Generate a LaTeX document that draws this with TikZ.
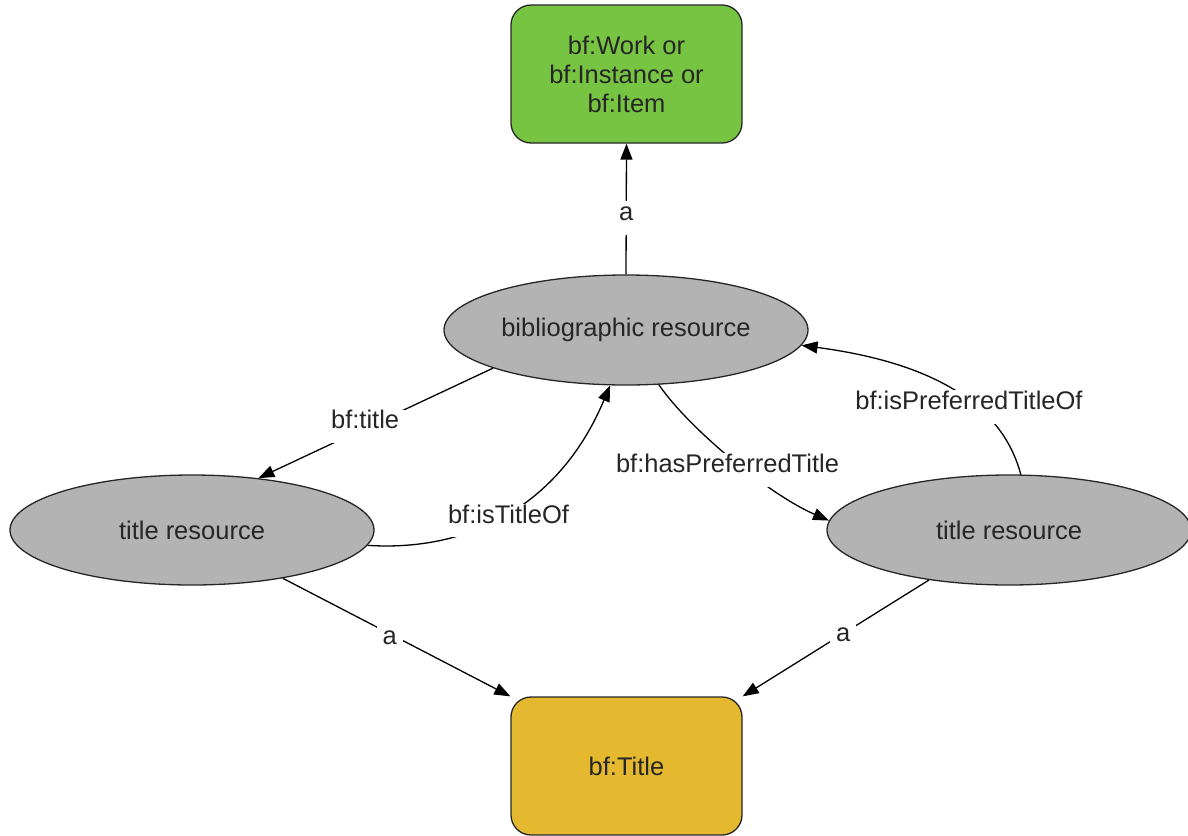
\documentclass[tikz,border=0pt]{standalone}
\usepackage{fontspec}
\setmainfont{Liberation Sans}
\usetikzlibrary{arrows.meta,shapes.geometric}
\definecolor{boxgreen}{HTML}{77C443}
\definecolor{boxgold}{HTML}{E4B930}
\definecolor{ellgray}{HTML}{B3B3B3}
\begin{document}
\begin{tikzpicture}[x=1pt,y=-1pt,
  every node/.style={font=\fontsize{25.5}{29}\selectfont, text=black!85},
  classbox/.style={draw=black!85, line width=1.3pt, rounded corners=20pt, minimum width=231pt, minimum height=138pt, align=center, inner sep=0pt},
  resell/.style={ellipse, draw=black!85, line width=1.3pt, fill=ellgray, minimum width=364pt, minimum height=110pt, inner sep=0pt},
  rel/.style={draw=black, line width=1.3pt, -{Triangle[length=16pt,width=12pt]}},
  lbl/.style={fill=white, inner xsep=6pt, inner ysep=12pt, text height=0.72em, text depth=0.2em}
]
\useasboundingbox (0,0) rectangle (1188,835);

\node[classbox, fill=boxgreen] (work) at (626.5,74) {bf:Work or\\bf:Instance or\\bf:Item};
\node[classbox, fill=boxgold] (ttl) at (626.5,766) {bf:Title};
\node[resell] (bib) at (626,330) {bibliographic resource};
\node[resell] (tl) at (192,530) {title resource};
\node[resell] (tr) at (1009,530) {title resource};

\draw[rel] (bib.north) -- node[lbl, pos=0.47, yshift=-5pt] {a} (work.south);
\draw[rel] (bib.196) -- node[lbl, pos=0.545, yshift=2pt] {bf:title} (tl.38);
\draw[rel] (tl.-5.4) .. controls (470,552) and (560,505) .. node[lbl, pos=0.5, yshift=-8pt] {bf:isTitleOf} (bib.254);
\draw[rel] (bib.-59) .. controls (690,430) and (770,495) .. node[lbl, pos=0.5, xshift=-6pt, yshift=-10pt] {bf:hasPreferredTitle} (tr.177);
\draw[rel] (tr.78) .. controls (1005,415) and (950,365) .. node[lbl, pos=0.5, xshift=8pt, yshift=-12pt] {bf:isPreferredTitleOf} (bib.-5);
\draw[rel] (tl.-28) -- node[lbl, pos=0.47, yshift=-8pt] {a} (ttl.north west);
\draw[rel] (tr.212) -- node[lbl, pos=0.46, yshift=-5pt] {a} (ttl.north east);
\end{tikzpicture}
\end{document}
